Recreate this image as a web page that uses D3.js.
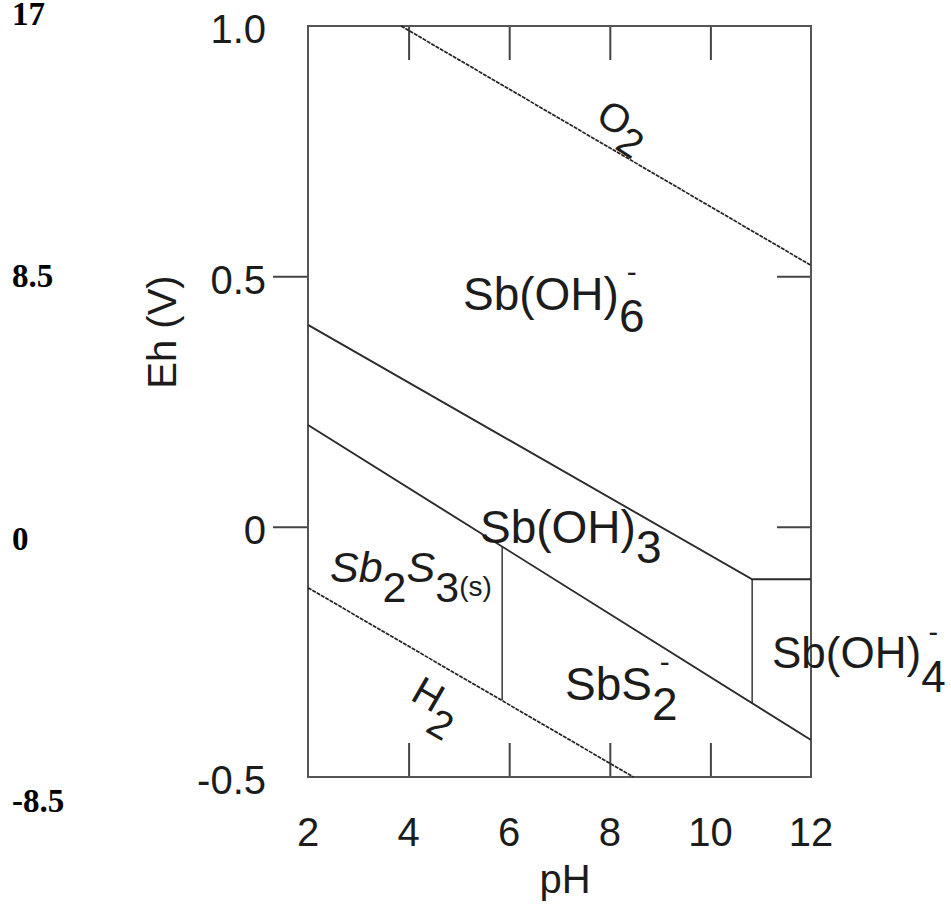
<!DOCTYPE html>
<html>
<head>
<meta charset="utf-8">
<script src="https://cdn.jsdelivr.net/npm/d3@7"></script>
<style>
  body { margin: 0; background: #fff; }
  svg { display: block; font-family: "Liberation Sans", Arial, sans-serif; }
  .axis .tick line { stroke: #444; stroke-width: 2px; }
  .axis .domain { display: none; }
  .bound { fill: none; stroke: #2b2b2b; stroke-width: 1.9px; }
  .bound--thin { stroke-width: 1.4px; }
  .water { fill: none; stroke: #222; stroke-width: 1.7px; stroke-dasharray: 4 1; }
  .lbl { fill: #1c1c1c; }
</style>
</head>
<body>
<div id="chart"></div>
<script>
'use strict';

// axis values
var pHTicks = [ 2, 4, 6, 8, 10, 12 ];
var pHInnerTicks = [ 4, 6, 8, 10 ];
var ehTicks = [ 1.0, 0.5, 0, -0.5 ];
var ehTickLabels = [ '1.0', '0.5', '0', '-0.5' ];
var ehSideTicks = [ 0.5, 0 ];
var peValues = [ 17, 8.5, 0, -8.5 ];
var peLabels = [ '17', '8.5', '0', '-8.5' ];

// boundaries, as [ pH, Eh ]
var sbOH6Boundary = [ [ 2, 0.403 ], [ 10.83, -0.105 ], [ 12, -0.105 ] ];
var sbS2Boundary = [ [ 2, 0.203 ], [ 12, -0.426 ] ];
var sb2S3Edge = [ [ 5.86, -0.040 ], [ 5.86, -0.346 ] ];
var sbOH4Edge = [ [ 10.83, -0.105 ], [ 10.83, -0.352 ] ];
var o2Line = [ [ 3.85, 1.0 ], [ 12, 0.522 ] ];
var h2Line = [ [ 2, -0.122 ], [ 8.47, -0.5 ] ];

var svg = d3.select( '#chart' )
  .append( 'svg' )
    .attr( 'width', 951 )
    .attr( 'height', 921 );

var x = d3.scaleLinear().domain( [ 2, 12 ] ).range( [ 308, 811 ] );
var y = d3.scaleLinear().domain( [ -0.5, 1.0 ] ).range( [ 777, 26 ] );
var pe = d3.scaleLinear().domain( [ -8.5, 17 ] ).range( [ 812, 25 ] );

var line = d3.line()
  .x( function( d ) { return x( d[0] ); } )
  .y( function( d ) { return y( d[1] ); } );

// ticks, all without labels
svg.append( 'g' ).classed( 'axis', true )
  .attr( 'transform', 'translate(0,' + y( -0.5 ) + ')' )
  .call( d3.axisBottom( x ).tickValues( pHInnerTicks ).tickSize( -34 ).tickFormat( '' ) );
svg.append( 'g' ).classed( 'axis', true )
  .attr( 'transform', 'translate(0,' + y( 1.0 ) + ')' )
  .call( d3.axisTop( x ).tickValues( pHInnerTicks ).tickSize( -34 ).tickFormat( '' ) );
svg.append( 'g' ).classed( 'axis', true )
  .attr( 'transform', 'translate(' + x( 2 ) + ',0)' )
  .call( d3.axisLeft( y ).tickValues( ehSideTicks ).tickSize( 35 ).tickFormat( '' ) );
svg.append( 'g' ).classed( 'axis', true )
  .attr( 'transform', 'translate(' + x( 12 ) + ',0)' )
  .call( d3.axisRight( y ).tickValues( ehSideTicks ).tickSize( -34 ).tickFormat( '' ) );

// frame
svg.append( 'rect' )
  .attr( 'x', x( 2 ) )
  .attr( 'y', y( 1.0 ) )
  .attr( 'width', x( 12 ) - x( 2 ) )
  .attr( 'height', y( -0.5 ) - y( 1.0 ) )
  .style( 'fill', 'none' )
  .style( 'stroke', '#555' )
  .style( 'stroke-width', '2px' );

// tick labels
svg.selectAll( '.ph-label' )
  .data( pHTicks )
  .enter().append( 'text' )
    .attr( 'class', 'lbl' )
    .attr( 'x', function( d ) { return x( d ); } )
    .attr( 'y', 846 )
    .attr( 'text-anchor', 'middle' )
    .style( 'font-size', '40px' )
    .text( function( d ) { return d; } );

svg.selectAll( '.eh-label' )
  .data( ehTicks )
  .enter().append( 'text' )
    .attr( 'class', 'lbl' )
    .attr( 'x', 266 )
    .attr( 'y', function( d ) { return y( d ) + 3; } )
    .attr( 'dy', '0.36em' )
    .attr( 'text-anchor', 'end' )
    .style( 'font-size', '40px' )
    .text( function( d, i ) { return ehTickLabels[i]; } );

// pe values on the far left
svg.selectAll( '.pe-label' )
  .data( peValues )
  .enter().append( 'text' )
    .attr( 'x', 12 )
    .attr( 'y', function( d ) { return pe( d ); } )
    .style( 'font-family', '"Liberation Serif", "Times New Roman", serif' )
    .style( 'font-weight', 'bold' )
    .style( 'font-size', '33px' )
    .style( 'fill', '#000' )
    .text( function( d, i ) { return peLabels[i]; } );

// axis titles
svg.append( 'text' )
  .attr( 'class', 'lbl' )
  .attr( 'x', 565 )
  .attr( 'y', 893 )
  .attr( 'text-anchor', 'middle' )
  .style( 'font-size', '40px' )
  .text( 'pH' );

svg.append( 'text' )
  .attr( 'class', 'lbl' )
  .attr( 'transform', 'translate(176,332) rotate(-90)' )
  .attr( 'text-anchor', 'middle' )
  .style( 'font-size', '40px' )
  .text( 'Eh (V)' );

// boundaries
svg.append( 'path' ).attr( 'd', line( o2Line ) ).classed( 'water', true );
svg.append( 'path' ).attr( 'd', line( h2Line ) ).classed( 'water', true );
svg.append( 'path' ).attr( 'd', line( sbOH6Boundary ) ).classed( 'bound', true );
svg.append( 'path' ).attr( 'd', line( sbS2Boundary ) ).classed( 'bound', true );
svg.append( 'path' ).attr( 'd', line( sb2S3Edge ) ).classed( 'bound bound--thin', true );
svg.append( 'path' ).attr( 'd', line( sbOH4Edge ) ).classed( 'bound bound--thin', true );

// species label with sub / superscripts, laid out piece by piece
function chemLabel( parent, x0, base, size, parts ) {
  var g = parent.append( 'g' );
  var cx = x0;
  parts.forEach( function( p ) {
    var fs = p.size || size;
    var t = g.append( 'text' )
      .attr( 'class', 'lbl' )
      .attr( 'x', cx )
      .attr( 'y', base + ( p.shift || 0 ) )
      .style( 'font-size', fs + 'px' )
      .style( 'font-style', p.italic ? 'italic' : 'normal' )
      .text( p.t );
    var w = t.node().getComputedTextLength();
    if ( p.charge ) {
      g.append( 'text' )
        .attr( 'class', 'lbl' )
        .attr( 'x', cx + w / 2 )
        .attr( 'y', base - size * 0.6 )
        .attr( 'text-anchor', 'middle' )
        .style( 'font-size', ( size * 0.65 ) + 'px' )
        .text( p.charge );
    }
    cx += w;
  } );
  return g;
}

chemLabel( svg, 463, 310, 46, [ { t: 'Sb(OH)' }, { t: '6', shift: 22, charge: '-' } ] );
chemLabel( svg, 480, 543, 46, [ { t: 'Sb(OH)' }, { t: '3', shift: 20 } ] );
chemLabel( svg, 565, 700, 46, [ { t: 'SbS' }, { t: '2', shift: 20, charge: '-' } ] );
chemLabel( svg, 772, 668, 44, [ { t: 'Sb(OH)' }, { t: '4', shift: 24, charge: '-' } ] );
chemLabel( svg, 330, 582, 43, [
  { t: 'Sb', italic: true },
  { t: '2', shift: 20 },
  { t: 'S', italic: true },
  { t: '3', shift: 20 },
  { t: '(s)', size: 28, shift: 14 }
] );

var o2Group = svg.append( 'g' ).attr( 'transform', 'translate(594,121) rotate(33)' );
chemLabel( o2Group, 0, 0, 40, [ { t: 'O' }, { t: '2', shift: 12 } ] );

var h2Group = svg.append( 'g' ).attr( 'transform', 'translate(409,699) rotate(30)' );
chemLabel( h2Group, 0, 0, 40, [ { t: 'H' }, { t: '2', shift: 20 } ] );
</script>
</body>
</html>
